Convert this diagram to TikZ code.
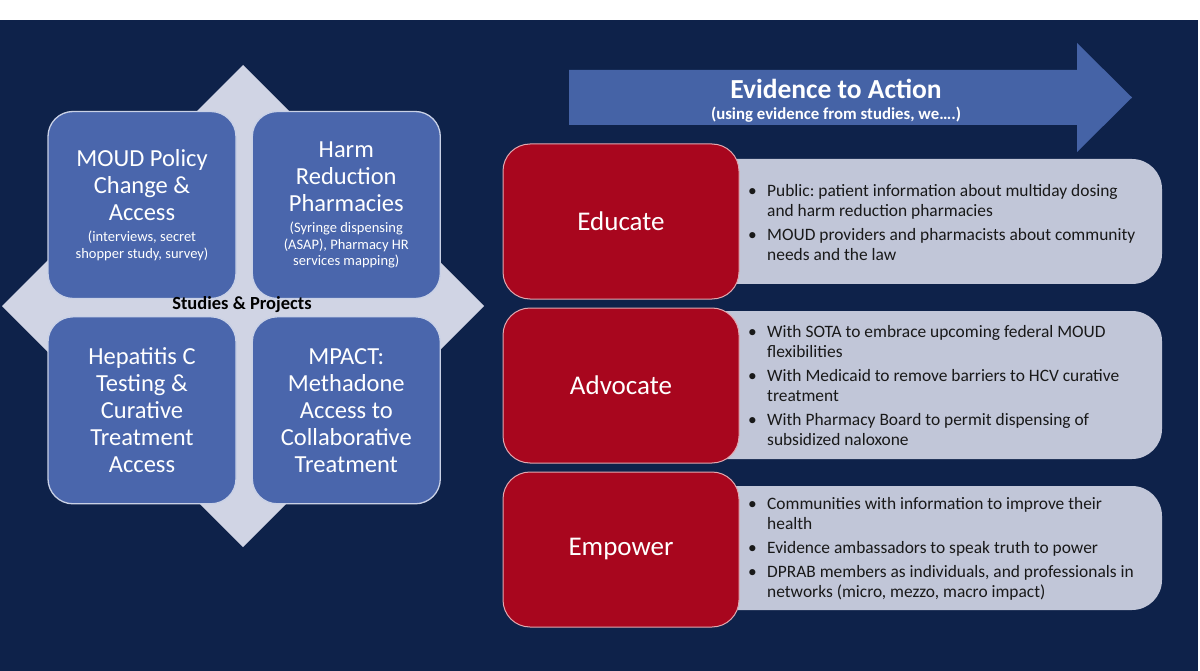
\documentclass[tikz,border=0pt]{standalone}
\usepackage{fontspec}
\setmainfont{Carlito}
\usetikzlibrary{positioning}
\frenchspacing

\definecolor{notte}{RGB}{14,34,74}
\definecolor{blustudio}{RGB}{74,102,172}
\definecolor{blufreccia}{RGB}{69,99,166}
\definecolor{lilla}{RGB}{208,212,228}
\definecolor{rosso}{RGB}{168,6,30}
\definecolor{grigio}{RGB}{193,198,216}

\tikzset{
  studio/.style={draw=white!70!blustudio, line width=1.3pt, fill=blustudio, rounded corners=25pt,
    minimum width=188pt, minimum height=187pt, text width=180pt, align=flush center, text=white,
    font=\fontsize{24.5}{27}\selectfont},
  azione/.style={draw=white!65!rosso, line width=1pt, fill=rosso, rounded corners=27pt,
    minimum width=236pt, minimum height=155pt, text=white, font=\fontsize{27}{30}\selectfont},
  elenco/.style={fill=grigio, rounded corners=30pt, minimum width=522pt},
  voci/.style={anchor=west, text width=410pt, align=flush left, inner sep=0pt, text=black!90,
    font=\fontsize{17.4}{19.6}\selectfont\setlength{\parskip}{4.6pt}}
}
\newcommand{\dettaglio}[1]{\par\vspace{4pt}{\fontsize{14.5}{16.8}\selectfont #1\par}}
\newcommand{\voce}[1]{\par\hangindent=19pt\hangafter=1\noindent\makebox[19pt][l]{\textbullet}#1\par}

\begin{document}
\begin{tikzpicture}[x=1pt, y=-1pt]
  % Sfondo
  \fill[white] (0,0) rectangle (1200,671);
  \useasboundingbox (0,0) rectangle (1200,671);
  \fill[notte] (0,20) rectangle (1198,671);

  % Studi e progetti
  \fill[lilla] (243,65) -- (484,306) -- (243,547) -- (2,306) -- cycle;
  \node[studio] (moud) at (142,205) {MOUD Policy\\Change \&\\Access
    \dettaglio{(interviews, secret\\shopper study, survey)}};
  \node[studio, right=15pt of moud] (harm) {Harm\\Reduction\\Pharmacies
    \dettaglio{(Syringe dispensing\\(ASAP), Pharmacy HR\\services mapping)}};
  \node[studio, below=17pt of moud] (hepc) {Hepatitis C\\Testing \&\\Curative\\Treatment\\Access};
  \node[studio, right=15pt of hepc] (mpact) {MPACT:\\Methadone\\Access to\\Collaborative\\Treatment};
  \node[font=\fontsize{18.5}{20}\selectfont\bfseries] (progetti) at (242,305) {Studies \& Projects};

  % Freccia
  \fill[blufreccia] (569,70) -- (1077,70) -- (1077,43) -- (1132,97.5) -- (1077,152)
    -- (1077,125) -- (569,125) -- cycle;
  \node[text=white, font=\fontsize{27.5}{30}\selectfont\bfseries] (titolo) at (836,89) {Evidence to Action};
  \node[text=white, font=\fontsize{16.8}{19}\selectfont\bfseries] (sottotitolo) at (836,115)
    {(using evidence from studies, we….)};

  % Elenchi
  \node[elenco, minimum height=125pt] (educatebox) at (901,221.5) {};
  \node[elenco, minimum height=148pt] (advocatebox) at (901,385) {};
  \node[elenco, minimum height=124pt] (empowerbox) at (901,548) {};
  \node[voci] (educatetesto) at (748,216.5) {%
    \voce{Public: patient information about multiday dosing\newline and harm reduction pharmacies}
    \voce{MOUD providers and pharmacists about community\newline needs and the law}};
  \node[voci] (advocatetesto) at (748,379.5) {%
    \voce{With SOTA to embrace upcoming federal MOUD\newline flexibilities}
    \voce{With Medicaid to remove barriers to HCV curative\newline treatment}
    \voce{With Pharmacy Board to permit dispensing of\newline subsidized naloxone}};
  \node[voci] (empowertesto) at (748,543) {%
    \voce{Communities with information to improve their\newline health}
    \voce{Evidence ambassadors to speak truth to power}
    \voce{DPRAB members as individuals, and professionals in\newline networks (micro, mezzo, macro impact)}};

  % Azioni
  \node[azione] (educate) at (621,221.5) {Educate};
  \node[azione, below=8pt of educate] (advocate) {Advocate};
  \node[azione, below=8pt of advocate] (empower) {Empower};
\end{tikzpicture}
\end{document}
